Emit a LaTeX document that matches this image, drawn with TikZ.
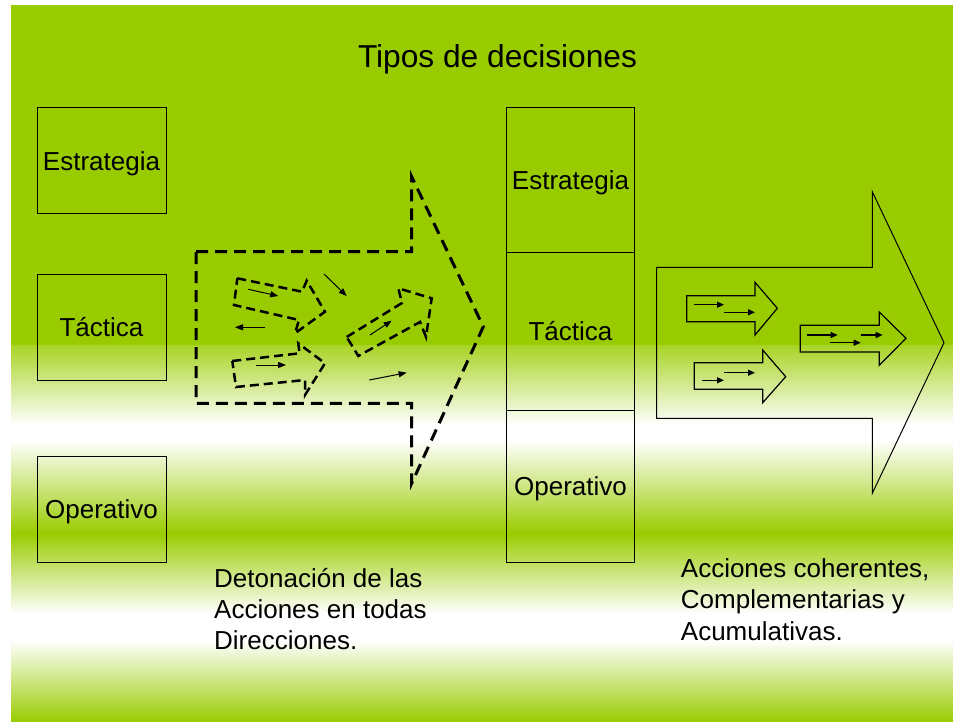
\documentclass[tikz,border=0pt]{standalone}
\usepackage{fontspec}
\setmainfont{Liberation Sans}
\usetikzlibrary{arrows.meta}
\definecolor{bgg}{HTML}{99CC00}
\begin{document}
\begin{tikzpicture}[x=1pt,y=-1pt,
  lbl/.style={font=\fontsize{26}{31}\selectfont, text height=18.6pt, text depth=0pt},
  box/.style={lbl, draw=black, line width=1pt, inner sep=0pt, minimum width=129pt, minimum height=106pt},
  mbox/.style={lbl, draw=black, line width=1pt, inner sep=0pt, minimum width=128pt},
  body/.style={font=\fontsize{26}{31}\selectfont, anchor=base west, inner sep=0pt},
  bigdash/.style={draw=black, line width=3pt, dash pattern=on 12pt off 7pt, line join=miter},
  smalldash/.style={draw=black, line width=2.5pt, dash pattern=on 9pt off 5pt},
  thinarrow/.style={draw=black, line width=1pt, -{Triangle[length=8pt,width=6pt]}},
  solidarrow/.style={draw=black, line width=1pt, line join=miter},
  smallsolid/.style={draw=black, line width=1.2pt, line join=miter},
  innerarrow/.style={draw=black, line width=1.3pt, -{Triangle[length=7pt,width=6pt]}}
]
\useasboundingbox (0,0) rectangle (953,722);
% background
\fill[white] (0,0) rectangle (953,722);
\fill[bgg] (11,5) rectangle (953,345.5);
\shade[top color=bgg!85!white, bottom color=white] (11,345) rectangle (953,425.5);
\fill[white] (11,425) rectangle (953,440.5);
\shade[top color=white, bottom color=bgg] (11,440) rectangle (953,533.5);
\shade[top color=bgg, bottom color=white] (11,533) rectangle (953,613.5);
\fill[white] (11,613) rectangle (953,640.5);
\shade[top color=white, bottom color=bgg] (11,640) rectangle (953,722);

% title
\node[font=\fontsize{31.7}{38}\selectfont, anchor=base, inner sep=0pt] (title) at (497.5,67.3) {Tipos de decisiones};

% left boxes
\node[box] (e1) at (101.5,161) {Estrategia};
\node[box] (t1) at (101.5,327) {Táctica};
\node[box] (o1) at (101.5,509) {Operativo};

% middle stacked boxes
\node[mbox, minimum height=144pt] (e2) at (570.5,180) {Estrategia};
\node[mbox, minimum height=158pt] (t2) at (570.5,331) {Táctica};
\node[mbox, minimum height=152pt] (o2) at (570.5,486) {Operativo};

% dashed big arrow
\draw[bigdash] (196,251.7) -- (411.7,251.7) -- (411.7,176.7) -- (483.3,326.7) -- (411.7,483.3) -- (411.7,403.3) -- (196,403.3) -- cycle;
% small dashed arrows
\draw[smalldash] (237.3,278.3) -- (302,291.7) -- (306.7,280.7) -- (325,311.7) -- (295,333.3) -- (299,320) -- (234,305) -- cycle;
\draw[smalldash] (232.3,361) -- (299.5,353.3) -- (298.3,343.3) -- (325,363.3) -- (305,395) -- (305,380) -- (236,387) -- cycle;
\draw[smalldash] (346.7,337) -- (402,303) -- (398.3,288.3) -- (431.7,298.3) -- (426,337) -- (420,322) -- (358.3,356) -- cycle;
% thin arrows
\draw[thinarrow] (248.3,289.3) -- (278.3,296);
\draw[thinarrow] (324,274) -- (346.7,296);
\draw[thinarrow] (265,327.3) -- (235,327.3);
\draw[thinarrow] (370,335) -- (391.7,320.7);
\draw[thinarrow] (256,365) -- (286,365);
\draw[thinarrow] (369.3,380) -- (406.7,372.7);

% solid big arrow
\draw[solidarrow] (656.7,267.3) -- (872.3,267.3) -- (872.3,191.7) -- (944,342.7) -- (872.3,493.3) -- (872.3,418.3) -- (656.7,418.3) -- cycle;
% small solid arrows
\draw[smallsolid] (686.7,295.7) -- (755,295.7) -- (755,282.3) -- (777.3,308.3) -- (755,335) -- (755,321.7) -- (686.7,321.7) -- cycle;
\draw[innerarrow] (694.3,304.7) -- (724,304.7);
\draw[innerarrow] (724.3,312.3) -- (755,312.3);
\draw[smallsolid] (694.3,362.7) -- (762.7,362.7) -- (762.7,350) -- (785.7,376.7) -- (762.7,402.7) -- (762.7,389.3) -- (694.3,389.3) -- cycle;
\draw[innerarrow] (702,380.3) -- (724,380.3);
\draw[innerarrow] (724.3,372.7) -- (755,372.7);
\draw[smallsolid] (800.3,325.3) -- (879.3,325.3) -- (879.3,312) -- (906,338.3) -- (879.3,365.3) -- (879.3,352) -- (800.3,352) -- cycle;
\draw[innerarrow] (807.3,335) -- (837.7,335);
\draw[innerarrow] (830,342.7) -- (860.7,342.7);
\draw[innerarrow] (860.7,335) -- (882.7,335);

% captions
\node[body] (d1) at (214,587.3) {Detonación de las};
\node[body] (d2) at (214,618.3) {Acciones en todas};
\node[body] (d3) at (214,649) {Direcciones.};
\node[body] (c1) at (680.7,577) {Acciones coherentes,};
\node[body] (c2) at (680.7,608.5) {Complementarias y};
\node[body] (c3) at (680.7,640.3) {Acumulativas.};
\end{tikzpicture}
\end{document}
